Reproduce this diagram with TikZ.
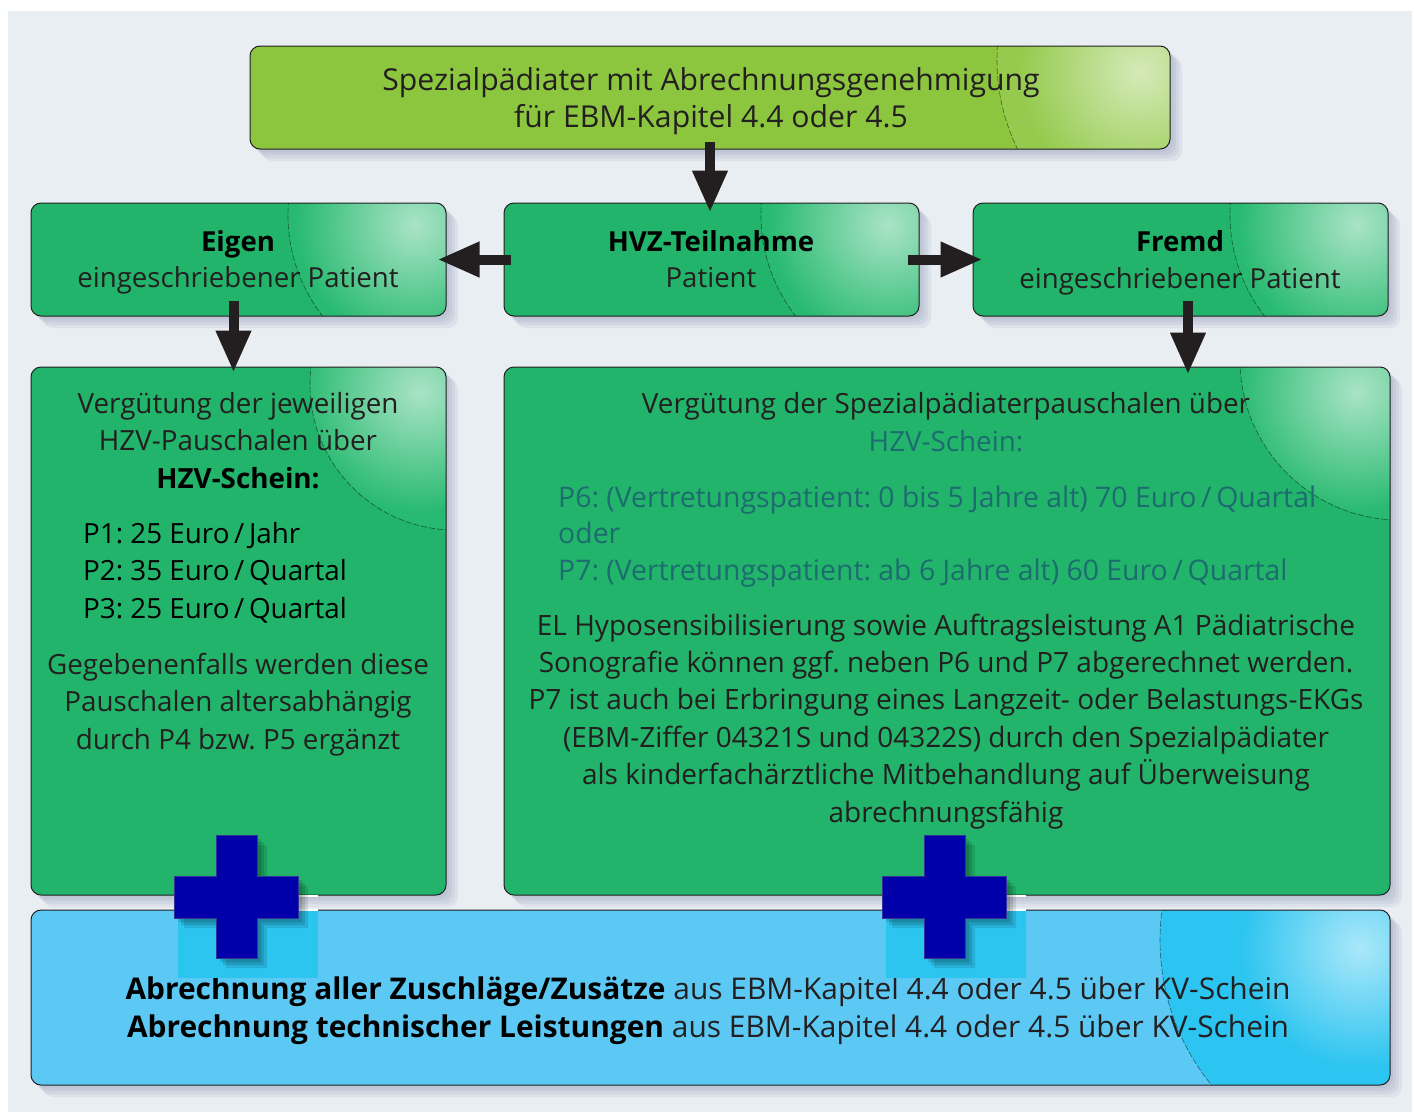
\documentclass[tikz,border=0pt]{standalone}
\usepackage{fontspec}
\setmainfont{Open Sans}
\frenchspacing
\usetikzlibrary{arrows.meta,calc}
\definecolor{bg}{RGB}{233,238,243}
\definecolor{topgreen}{RGB}{140,198,63}
\definecolor{boxgreen}{RGB}{34,180,106}
\definecolor{glossgreen}{RGB}{40,186,112}
\definecolor{boxblue}{RGB}{92,201,245}
\definecolor{glossblue}{RGB}{44,196,240}
\definecolor{cyanpatch}{RGB}{43,197,240}
\definecolor{crossblue}{RGB}{0,0,170}
\definecolor{ink}{RGB}{35,31,32}
\definecolor{tealtext}{RGB}{28,108,112}
\definecolor{shadowc}{RGB}{175,182,202}
\tikzset{
  boxframe/.style={draw=ink, line width=1pt, rounded corners=10pt, inner sep=0pt},
  txt/.style={text=ink, inner sep=0pt, align=center, anchor=base},
  blockarrow/.style={draw=ink, line width=10pt, -{Triangle[length=42pt,width=33pt]}},
  arcline/.style={draw=black, line width=0.6pt, dash pattern=on 6pt off 2pt, opacity=0.5},
  crossfill/.style={fill=crossblue, draw=crossblue!60!gray, line width=0.8pt},
}
% #1 x1, #2 y1, #3 x2, #4 y2, #5 fill, #6 gloss colour, #7 circle centre, #8 radius, #9 highlight centre
\newcommand\boxbg[9]{%
  \foreach \s/\o in {3/0.35,6/0.3,9/0.25,12/0.2}{%
    \begin{scope}[shift={(\s,\s)}]
      \fill[shadowc, opacity=\o, rounded corners=10pt] (#1,#2) rectangle (#3,#4);
    \end{scope}}
  \fill[#5, rounded corners=10pt] (#1,#2) rectangle (#3,#4);
  \begin{scope}
    \clip[rounded corners=10pt] (#1,#2) rectangle (#3,#4);
    \fill[#6] #7 circle (#8);
    \begin{scope}
      \clip #7 circle (#8);
      \shade[inner color=#6!40!white, outer color=#6] #9 circle (120);
    \end{scope}
    \draw[arcline] #7 circle (#8);
  \end{scope}
}
\newcommand\plusmark[2]{% #1 left x of horizontal bar, #2 top y of vertical bar
  \fill[cyanpatch] (#1+4,910) rectangle (#1+144,978);
  \draw[white, line width=1.2pt] (#1+124,896) -- (#1+144,896);
  \draw[white, line width=1.2pt] (#1+124,910) -- (#1+144,910);
  \foreach \s/\o in {4/0.12,7/0.12,10/0.1}{%
    \begin{scope}[shift={(\s,\s)}]
      \fill[black, opacity=\o] (#1+42,#2) -- (#1+83,#2) -- (#1+83,#2+41) -- (#1+124,#2+41) -- (#1+124,#2+83)
        -- (#1+83,#2+83) -- (#1+83,#2+123) -- (#1+42,#2+123) -- (#1+42,#2+83) -- (#1,#2+83) -- (#1,#2+41) -- (#1+42,#2+41) -- cycle;
    \end{scope}}
  \path[crossfill] (#1+42,#2) -- (#1+83,#2) -- (#1+83,#2+41) -- (#1+124,#2+41) -- (#1+124,#2+83)
        -- (#1+83,#2+83) -- (#1+83,#2+123) -- (#1+42,#2+123) -- (#1+42,#2+83) -- (#1,#2+83) -- (#1,#2+41) -- (#1+42,#2+41) -- cycle;
}
\begin{document}
\begin{tikzpicture}[x=1pt,y=-1pt]
\useasboundingbox (0,0) rectangle (1414,1112);
\fill[white] (0,0) rectangle (1414,1112);
\fill[bg] (8,11) rectangle (1412,1112);

% box backgrounds
\boxbg{250}{46}{1170}{149}{topgreen}{topgreen!92!white}{(1200,60)}{203}{(1140,72)}
\boxbg{31}{203}{446}{316}{boxgreen}{glossgreen}{(453,215)}{165}{(415,225)}
\boxbg{504}{203}{919}{316}{boxgreen}{glossgreen}{(926,215)}{165}{(888,225)}
\boxbg{973}{203}{1388}{316}{boxgreen}{glossgreen}{(1395,215)}{165}{(1357,225)}
\boxbg{31}{367}{446}{895}{boxgreen}{glossgreen}{(455,385)}{145}{(420,392)}
\boxbg{504}{367}{1390}{895}{boxgreen}{glossgreen}{(1400,360)}{160}{(1357,392)}
\boxbg{31}{910}{1390}{1085}{boxblue}{glossblue}{(1390,940)}{230}{(1360,948)}

% box frames
\node[boxframe, minimum width=920pt, minimum height=103pt] (top) at (710,97.5) {};
\node[boxframe, minimum width=415pt, minimum height=113pt] (eigen) at (238.5,259.5) {};
\node[boxframe, minimum width=415pt, minimum height=113pt] (hvz) at (711.5,259.5) {};
\node[boxframe, minimum width=415pt, minimum height=113pt] (fremd) at (1180.5,259.5) {};
\node[boxframe, minimum width=415pt, minimum height=528pt] (leftbig) at (238.5,631) {};
\node[boxframe, minimum width=886pt, minimum height=528pt] (rightbig) at (947,631) {};
\node[boxframe, minimum width=1359pt, minimum height=175pt] (bottom) at (710.5,997.5) {};

% texts (base anchor = baseline of the last line)
\node[txt, font=\fontsize{30.2}{37}\selectfont] (ttop) at (711,127)
  {Spezialpädiater mit Abrechnungsgenehmigung\\für EBM-Kapitel 4.4 oder 4.5};
\node[txt, font=\fontsize{27.6}{35.5}\selectfont] (teigen) at (238,287)
  {\textcolor{black}{\bfseries Eigen}\\eingeschriebener Patient};
\node[txt, font=\fontsize{27.6}{35.5}\selectfont] (thvz) at (711,287)
  {\textcolor{black}{\bfseries HVZ-Teilnahme}\\Patient};
\node[txt, font=\fontsize{27.6}{36.5}\selectfont] (tfremd) at (1180,288)
  {\textcolor{black}{\bfseries Fremd}\\eingeschriebener Patient};
\node[txt, font=\fontsize{27.8}{37.5}\selectfont] (tleft1) at (238,488)
  {Vergütung der jeweiligen\\HZV-Pauschalen über\\\textcolor{black}{\bfseries HZV-Schein:}};
\node[txt, align=left, anchor=base west, text=black, font=\fontsize{27.8}{37.5}\selectfont] (tleftp) at (83,618)
  {P1: 25 Euro\,/\,Jahr\\P2: 35 Euro\,/\,Quartal\\P3: 25 Euro\,/\,Quartal};
\node[txt, font=\fontsize{27.8}{37.5}\selectfont] (tleft2) at (238,749)
  {Gegebenenfalls werden diese\\Pauschalen altersabhängig\\durch P4 bzw. P5 ergänzt};
\node[txt, font=\fontsize{27.8}{38}\selectfont] (tright1) at (946,451)
  {Vergütung der Spezialpädiaterpauschalen über\\\textcolor{tealtext}{HZV-Schein:}};
\node[txt, align=left, anchor=base west, text=tealtext, font=\fontsize{28.4}{36.5}\selectfont] (trightp) at (558,580)
  {P6: (Vertretungspatient: 0 bis 5 Jahre alt) 70 Euro\,/\,Quartal\\oder\\P7: (Vertretungspatient: ab 6 Jahre alt) 60 Euro\,/\,Quartal};
\node[txt, font=\fontsize{28}{37.4}\selectfont] (tright2) at (946,822)
  {EL Hyposensibilisierung sowie Auftragsleistung A1 Pädiatrische\\
   Sonografie können ggf. neben P6 und P7 abgerechnet werden.\\
   P7 ist auch bei Erbringung eines Langzeit- oder Belastungs-EKGs\\
   (EBM-Ziffer 04321S und 04322S) durch den Spezialpädiater\\
   als kinderfachärztliche Mitbehandlung auf Überweisung\\
   abrechnungsfähig};
\node[txt, font=\fontsize{29.9}{38}\selectfont] (tbottom) at (708,1037)
  {\textcolor{black}{\bfseries Abrechnung aller Zuschläge/Zusätze} aus EBM-Kapitel 4.4 oder 4.5 über KV-Schein\\
   \textcolor{black}{\bfseries Abrechnung technischer Leistungen} aus EBM-Kapitel 4.4 oder 4.5 über KV-Schein};

% arrows
\draw[blockarrow] ([yshift=8pt]top.south) -- ([yshift=-10pt]top.south |- hvz.north);
\draw[blockarrow] ([xshift=7pt]hvz.west) -- ([xshift=-9pt]eigen.east);
\draw[blockarrow] ([xshift=-12pt]hvz.east) -- ([xshift=10pt]fremd.west);
\draw[blockarrow] ($(eigen.south)+(-5,-16)$) -- ($(eigen.south |- leftbig.north)+(-5,6)$);
\draw[blockarrow] ($(fremd.south)+(7.5,-16)$) -- ($(fremd.south |- rightbig.north)+(7.5,8)$);

% plus marks
\plusmark{174}{835}
\plusmark{882}{835}
\end{tikzpicture}
\end{document}
